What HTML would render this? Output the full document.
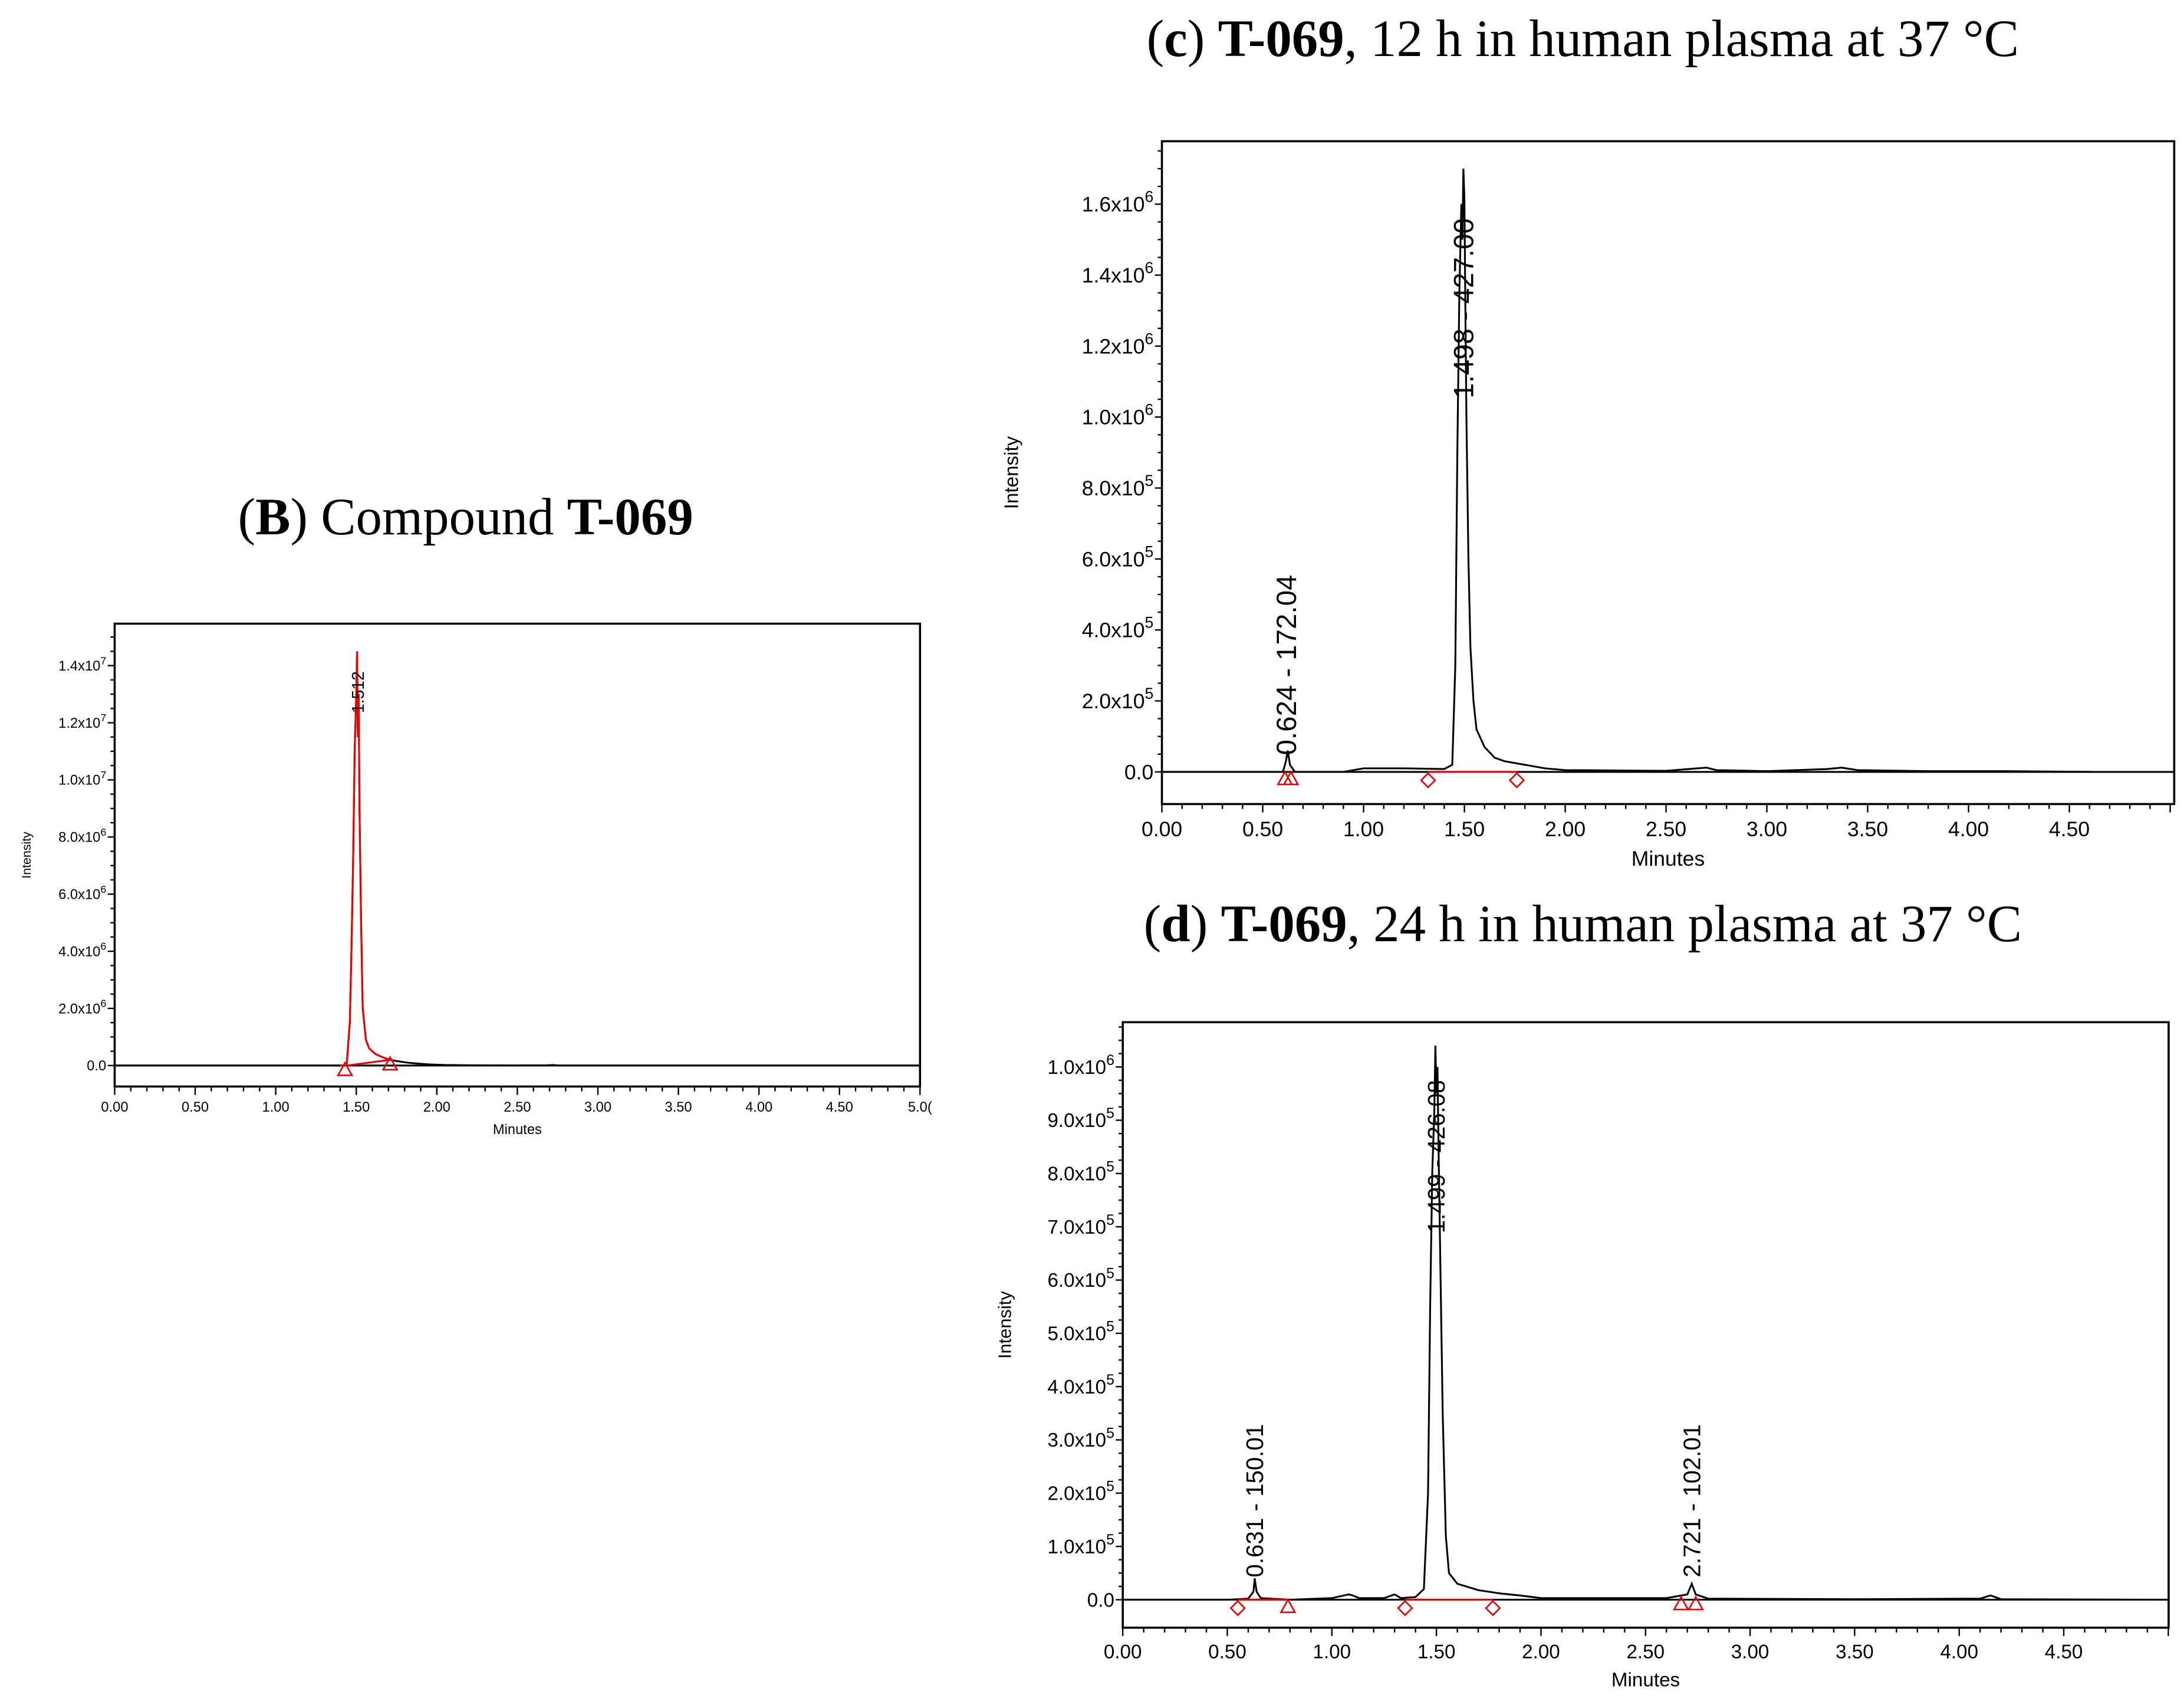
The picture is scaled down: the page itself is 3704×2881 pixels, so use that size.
<!DOCTYPE html>
<html><head><meta charset="utf-8">
<style>
html,body{margin:0;padding:0;background:#fff;}
svg{display:block;}
.tk{font-family:"Liberation Sans",sans-serif;fill:#000;}
.ttl{font-family:"Liberation Serif",serif;fill:#000;}
</style></head>
<body>
<svg id="root" width="3704" height="2881" viewBox="0 0 1562 1215" preserveAspectRatio="none" xmlns="http://www.w3.org/2000/svg">
<text class="ttl" x="333" y="382" font-size="37.5" text-anchor="middle">(<tspan font-weight="bold">B</tspan>) Compound <tspan font-weight="bold">T-069</tspan></text>
<text class="ttl" x="1132" y="40" font-size="37.5" text-anchor="middle">(<tspan font-weight="bold">c</tspan>) <tspan font-weight="bold">T-069</tspan>, 12 h in human plasma at 37 °C</text>
<text class="ttl" x="1132" y="673" font-size="37.5" text-anchor="middle">(<tspan font-weight="bold">d</tspan>) <tspan font-weight="bold">T-069</tspan>, 24 h in human plasma at 37 °C</text>
</svg>
<script>
// Panel B data
const bTimes = [0,1.40,1.44,1.46,1.47,1.48,1.49,1.50,1.505,1.51,1.515,1.52,1.53,1.54,1.56,1.58,1.62,1.66,1.71,1.76,1.82,1.88,1.95,2.05,2.2,2.5,2.68,2.72,2.76,5.0];
const bValues = [0,0,0,1.5e6,4e6,7e6,1.1e7,1.3e7,1.45e7,1.15e7,1.3e7,9e6,5e6,2e6,9e5,6e5,4e5,3e5,2e5,1.5e5,1e5,7e4,4e4,2e4,1e4,5e3,1e4,2e4,0,0];
const bRedEnd = 1.71;
const bTicksX = ["0.00","0.50","1.00","1.50","2.00","2.50","3.00","3.50","4.00","4.50","5.0("];
const bTicksY = [0,2e6,4e6,6e6,8e6,1e7,1.2e7,1.4e7];
const bTickLabels = [["0.0",""],["2.0x10","6"],["4.0x10","6"],["6.0x10","6"],["8.0x10","6"],["1.0x10","7"],["1.2x10","7"],["1.4x10","7"]];
// Panel c data
const cTimes = [0,0.3,0.6,0.615,0.624,0.635,0.66,0.9,1.0,1.2,1.4,1.44,1.455,1.465,1.475,1.485,1.49,1.495,1.5,1.505,1.51,1.52,1.53,1.545,1.56,1.6,1.65,1.7,1.8,1.9,2.0,2.5,2.7,2.75,3.0,3.3,3.37,3.45,3.8,4.2,4.62];
const cValues = [0,0,0,3e4,6e4,2e4,0,0,1e4,1e4,8e3,2e4,3e5,9e5,1.35e6,1.6e6,1.5e6,1.7e6,1.62e6,1.3e6,1.0e6,6e5,3.5e5,2e5,1.2e5,7e4,4e4,3e4,2e4,1e4,5e3,3e3,1.2e4,5e3,2e3,8e3,1.2e4,5e3,2e3,2e3,0];
const cTicksY = [0,2e5,4e5,6e5,8e5,1e6,1.2e6,1.4e6,1.6e6];
const cTickLabels = [["0.0",""],["2.0x10","5"],["4.0x10","5"],["6.0x10","5"],["8.0x10","5"],["1.0x10","6"],["1.2x10","6"],["1.4x10","6"],["1.6x10","6"]];
// Panel d data
const dTimes = [0,0.5,0.6,0.625,0.631,0.64,0.66,0.8,1.0,1.08,1.1,1.13,1.25,1.3,1.33,1.4,1.44,1.46,1.47,1.48,1.49,1.495,1.5,1.505,1.51,1.52,1.53,1.545,1.56,1.6,1.7,1.8,1.9,2.0,2.6,2.7,2.721,2.74,2.8,3.5,4.1,4.15,4.2,5.0];
const dValues = [0,0,2e3,1.5e4,4e4,1.5e4,3e3,0,3e3,1e4,8e3,3e3,3e3,1e4,3e3,5e3,2e4,2e5,5.5e5,8e5,9.2e5,1.04e6,9.5e5,1.0e6,8.5e5,6e5,3.5e5,1.2e5,5e4,3e4,1.8e4,1.2e4,8e3,3e3,3e3,1e4,3e4,1e4,2e3,1e3,2e3,8e3,1e3,0];
const dTicksY = [0,1e5,2e5,3e5,4e5,5e5,6e5,7e5,8e5,9e5,1e6];
const dTickLabels = [["0.0",""],["1.0x10","5"],["2.0x10","5"],["3.0x10","5"],["4.0x10","5"],["5.0x10","5"],["6.0x10","5"],["7.0x10","5"],["8.0x10","5"],["9.0x10","5"],["1.0x10","6"]];
const cdTicksX = ["0.00","0.50","1.00","1.50","2.00","2.50","3.00","3.50","4.00","4.50"];

const NS="http://www.w3.org/2000/svg";
const root=document.getElementById('root');
function mk(tag,attrs,parent){const e=document.createElementNS(NS,tag);for(const k in attrs)e.setAttribute(k,attrs[k]);(parent||root).appendChild(e);return e;}

function panel(cfg){
  const g=mk('g',{});
  
  
  const xs=t=>cfg.L+(t-cfg.x0)*cfg.xpx;
  const ys=v=>cfg.Y0-(v)*cfg.ypx;
  const frame=mk('rect',{x:cfg.L,y:cfg.T,width:cfg.R-cfg.L,height:cfg.B-cfg.T,fill:'none',stroke:'#000','stroke-width':1.5},g);
  
  
  const base=mk('line',{x1:cfg.L,x2:cfg.R,y1:cfg.Y0,y2:cfg.Y0,stroke:'#000','stroke-width':1.3},g);
  
  
  const nMinor=Math.floor((cfg.xmax)/0.1+0.001);
  for(let i=0;i<=nMinor;i++){const x=xs(i*0.1);const major=i%5===0;
    const tk=mk('line',{x1:x,x2:x,y1:cfg.B,y2:cfg.B+(major?6:3.5),stroke:'#000','stroke-width':1},g);
    
    }
  cfg.xt.forEach((lab,i)=>{const t=mk('text',{x:xs(i*0.5),y:cfg.B+cfg.fs+8,'font-size':cfg.fs,'text-anchor':'middle',class:'tk'},g);t.textContent=lab;
    
    });
  const xl=mk('text',{x:(cfg.L+cfg.R)/2,y:cfg.B+2*cfg.fs+14,'font-size':cfg.fs,'text-anchor':'middle',class:'tk'},g);xl.textContent='Minutes';
  
  
  const ylab=mk('text',{x:0,y:0,'font-size':cfg.fs-1,'text-anchor':'middle',class:'tk',transform:`translate(${cfg.ylx},${(cfg.T+cfg.B)/2}) rotate(-90)`},g);ylab.textContent='Intensity';
  
  
  const step=cfg.yt[1]-cfg.yt[0];
  for(let v=0;ys(v)>cfg.T+2;v+=step/4){const y=ys(v);const major=Math.abs(v/step-Math.round(v/step))<0.01;
    const tk=mk('line',{x1:cfg.L-(major?5:3),x2:cfg.L,y1:y,y2:y,stroke:'#000','stroke-width':1},g);
    
    }
  cfg.yt.forEach((v,i)=>{const t=mk('text',{x:cfg.L-6,y:ys(v)+cfg.fs*0.35,'font-size':cfg.fs,'text-anchor':'end',class:'tk'},g);
    t.textContent=cfg.yl[i][0];
    if(cfg.yl[i][1]){const s=mk('tspan',{dy:-cfg.fs*0.45,'font-size':cfg.fs*0.75},t);s.textContent=cfg.yl[i][1];}
    
    });
  const pts=cfg.times.map((t,i)=>xs(t).toFixed(2)+','+ys(cfg.vals[i]).toFixed(2));
  const line=mk('polyline',{points:pts.join(' '),fill:'none',stroke:'#000','stroke-width':1.3},g);
  
  
  if(cfg.redEnd){const rp=[];cfg.times.forEach((t,i)=>{if(t>=1.40&&t<=cfg.redEnd)rp.push(xs(t).toFixed(2)+','+ys(cfg.vals[i]).toFixed(2));});
    const rl=mk('polyline',{points:rp.join(' '),fill:'none',stroke:'#e00','stroke-width':1.3},g);
    
    }
  return {g,xs,ys};
}
function tri(g,x,y){const p=mk('polygon',{points:`${x},${y-6} ${x-5},${y+3} ${x+5},${y+3}`,fill:'none',stroke:'#e00','stroke-width':1.1},g);
  
  }
function dia(g,x,y){const p=mk('polygon',{points:`${x},${y-5} ${x+5},${y} ${x},${y+5} ${x-5},${y}`,fill:'none',stroke:'#e00','stroke-width':1.1},g);
  
  }
function redLine(g,x1,y1,x2,y2){const l=mk('line',{x1,y1,x2,y2,stroke:'#e00','stroke-width':1.3},g);
  
  }
function ann(g,x,y,txt,fs){const t=mk('text',{x:0,y:0,'font-size':fs,class:'tk',transform:`translate(${x},${y}) rotate(-90)`},g);t.textContent=txt;
  
  }

// Panel B
const B=panel({name:'panel-b',L:82,T:446,R:658,B:777,Y0:762,ypx:(762-476)/1.4e7,x0:0,xpx:(658-82)/5,xmax:5,xt:bTicksX,yt:bTicksY,yl:bTickLabels,fs:10,ylx:22,times:bTimes,vals:bValues,redEnd:bRedEnd});
redLine(B.g,B.xs(1.44),B.ys(0),B.xs(1.71),B.ys(2e5));
tri(B.g,B.xs(1.43),766);tri(B.g,B.xs(1.71),762);
ann(B.g,B.xs(1.512)+4,510,'1.512',12);
// Panel c
const C=panel({name:'panel-c',L:831,T:101,R:1555,B:575,Y0:552,ypx:(552-146)/1.6e6,x0:0,xpx:(1481-832)/4.5,xmax:5,xt:cdTicksX,yt:cTicksY,yl:cTickLabels,fs:15,ylx:728,times:cTimes,vals:cValues});
tri(C.g,C.xs(0.61),558);tri(C.g,C.xs(0.64),558);
redLine(C.g,C.xs(1.32),552,C.xs(1.76),552);
dia(C.g,C.xs(1.32),558);dia(C.g,C.xs(1.76),558);
ann(C.g,C.xs(0.624)+6,540,'0.624 - 172.04',20);
ann(C.g,C.xs(1.495)+7,285,'1.498 - 427.00',20);
// Panel d
const D=panel({name:'panel-d',L:803,T:731,R:1551,B:1164,Y0:1144,ypx:(1144-763)/1e6,x0:0,xpx:(1476-803)/4.5,xmax:5,xt:cdTicksX,yt:dTicksY,yl:dTickLabels,fs:14,ylx:723,times:dTimes,vals:dValues});
redLine(D.g,D.xs(0.55),1144,D.xs(0.79),1144);
dia(D.g,D.xs(0.55),1150);tri(D.g,D.xs(0.79),1150);
redLine(D.g,D.xs(1.35),1144,D.xs(1.77),1144);
dia(D.g,D.xs(1.35),1150);dia(D.g,D.xs(1.77),1150);
tri(D.g,D.xs(2.67),1148);tri(D.g,D.xs(2.74),1148);
ann(D.g,D.xs(0.631)+6,1128,'0.631 - 150.01',17);
ann(D.g,D.xs(1.499)+6,882,'1.499 - 426.08',17);
ann(D.g,D.xs(2.721)+6,1128,'2.721 - 102.01',17);
</script>
</body></html>
